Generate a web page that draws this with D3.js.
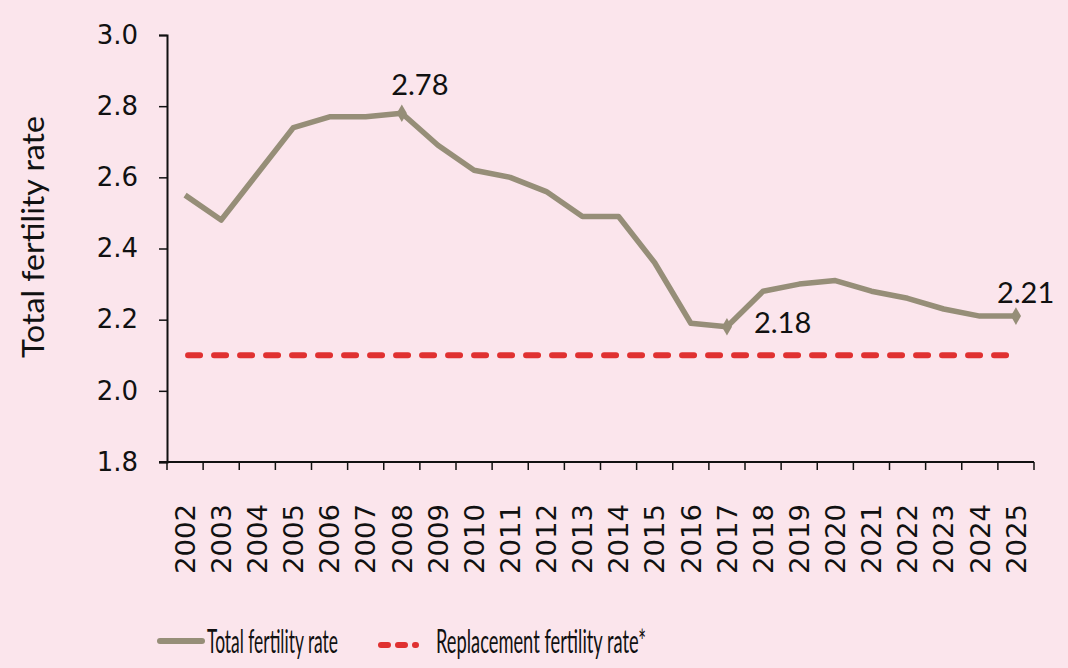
<!DOCTYPE html>
<html>
<head>
<meta charset="utf-8">
<script src="https://cdn.jsdelivr.net/npm/d3@7"></script>
<style>
  body { margin: 0; background: #fbe5ec; }
  svg { display: block; }
</style>
</head>
<body>
<svg id="chart" width="1068" height="668"></svg>
<script>
// data
var years = ["2002","2003","2004","2005","2006","2007","2008","2009","2010","2011","2012","2013",
             "2014","2015","2016","2017","2018","2019","2020","2021","2022","2023","2024","2025"];
var tfr = [2.55, 2.48, 2.61, 2.74, 2.77, 2.77, 2.78, 2.69, 2.62, 2.60, 2.56, 2.49,
           2.49, 2.36, 2.19, 2.18, 2.28, 2.30, 2.31, 2.28, 2.26, 2.23, 2.21, 2.21];
var replacement = 2.1;
var yTicks = [1.8, 2.0, 2.2, 2.4, 2.6, 2.8, 3.0];
var labelled = [
  {year: "2008", value: 2.78, text: "2.78", dx: 18, dy: -18, anchor: "middle"},
  {year: "2017", value: 2.18, text: "2.18", dx: 27, dy: 6, anchor: "start"},
  {year: "2025", value: 2.21, text: "2.21", dx: -19, dy: -13, anchor: "start"}
];

var svg = d3.select("#chart");
var mLeft = 167, mRight = 1034, mTop = 35, mBottom = 462;

var x = d3.scaleBand().domain(years).range([mLeft, mRight]);
var y = d3.scaleLinear().domain([1.8, 3.0]).range([mBottom, mTop]);
var cx = function (d) { return x(d) + x.bandwidth() / 2; };

// y axis
var yAxis = svg.append("g")
    .attr("transform", "translate(" + mLeft + ",0)")
    .call(d3.axisLeft(y).tickValues(yTicks).tickFormat(d3.format(".1f")).tickSizeOuter(0).tickSize(8));
yAxis.select(".domain").attr("stroke", "#111").attr("stroke-width", 2);
yAxis.selectAll(".tick line").attr("stroke", "#111").attr("stroke-width", 1.5);
yAxis.selectAll("text")
    .attr("x", -29)
    .style("font-family", "DejaVu Sans")
    .style("font-size", "26px")
    .attr("fill", "#111");

// x axis, ticks on band edges
var xAxis = svg.append("g")
    .attr("transform", "translate(0," + mBottom + ")")
    .call(d3.axisBottom(x).tickSize(0).tickSizeOuter(0));
xAxis.select(".domain").attr("stroke", "#111").attr("stroke-width", 2)
    .attr("d", "M" + (mLeft - 8) + ",0H" + mRight);
xAxis.selectAll(".tick text")
    .attr("transform", "rotate(-90)")
    .attr("x", -42)
    .attr("y", 0)
    .attr("dy", "0.36em")
    .attr("textLength", 70)
    .attr("lengthAdjust", "spacingAndGlyphs")
    .style("text-anchor", "end")
    .style("font-family", "DejaVu Sans")
    .style("font-size", "27px")
    .attr("fill", "#111");
var edges = years.map(function (d) { return x(d); }).concat([mRight]);
xAxis.selectAll(".edge")
    .data(edges)
    .enter()
    .append("line")
    .attr("x1", function (d) { return d; })
    .attr("x2", function (d) { return d; })
    .attr("y1", 0)
    .attr("y2", 8)
    .attr("stroke", "#111")
    .attr("stroke-width", 1.5);

// replacement line
svg.append("line")
    .attr("x1", cx(years[0]) + 3)
    .attr("x2", cx(years[years.length - 1]) - 6)
    .attr("y1", y(replacement))
    .attr("y2", y(replacement))
    .attr("stroke", "#e03131")
    .attr("stroke-width", 6)
    .attr("stroke-linecap", "round")
    .attr("stroke-dasharray", "12,14");

// fertility line
var line = d3.line()
    .x(function (d, i) { return cx(years[i]); })
    .y(function (d) { return y(d); });
svg.append("path")
    .datum(tfr)
    .attr("d", line)
    .attr("fill", "none")
    .attr("stroke", "#968e78")
    .attr("stroke-width", 5.5)
    .attr("stroke-linejoin", "round");

// markers + labels
svg.selectAll(".mark")
    .data(labelled)
    .enter()
    .append("path")
    .attr("d", d3.symbol().type(d3.symbolDiamond).size(90))
    .attr("transform", function (d) { return "translate(" + cx(d.year) + "," + y(d.value) + ")"; })
    .attr("fill", "#968e78");
svg.selectAll(".lab")
    .data(labelled)
    .enter()
    .append("text")
    .attr("x", function (d) { return cx(d.year) + d.dx; })
    .attr("y", function (d) { return y(d.value) + d.dy; })
    .attr("text-anchor", function (d) { return d.anchor; })
    .style("font-family", "Lato, 'Open Sans', sans-serif")
    .style("font-size", "29px")
    .attr("fill", "#111")
    .text(function (d) { return d.text; });

// y title
svg.append("text")
    .attr("transform", "translate(44,237) rotate(-90)")
    .attr("text-anchor", "middle")
    .attr("textLength", 242)
    .attr("lengthAdjust", "spacingAndGlyphs")
    .style("font-family", "Lato, sans-serif")
    .style("font-size", "30px")
    .attr("fill", "#111")
    .text("Total fertility rate");

// legend
var lg = svg.append("g").style("font-family", "Lato, sans-serif")
    .style("font-size", "32px");
lg.append("line")
    .attr("x1", 160).attr("x2", 202).attr("y1", 641).attr("y2", 641)
    .attr("stroke", "#968e78").attr("stroke-width", 6).attr("stroke-linecap", "round");
lg.append("text").attr("x", 207).attr("y", 653).attr("fill", "#111")
    .attr("textLength", 131).attr("lengthAdjust", "spacingAndGlyphs")
    .text("Total fertility rate");
lg.append("line")
    .attr("x1", 381).attr("x2", 416).attr("y1", 645).attr("y2", 645)
    .attr("stroke", "#e03131").attr("stroke-width", 6).attr("stroke-linecap", "round")
    .attr("stroke-dasharray", "7,10");
lg.append("text").attr("x", 436).attr("y", 653).attr("fill", "#111")
    .attr("textLength", 210).attr("lengthAdjust", "spacingAndGlyphs")
    .text("Replacement fertility rate*");
</script>
</body>
</html>
